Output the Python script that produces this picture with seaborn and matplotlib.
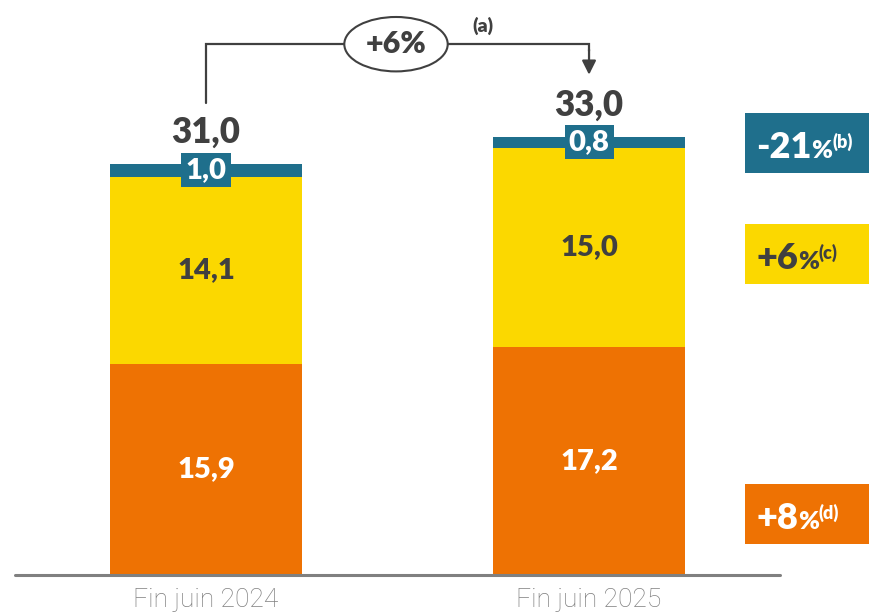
import numpy as np
import pandas as pd
import matplotlib
matplotlib.use("Agg")
import matplotlib.pyplot as plt
from matplotlib.patches import Ellipse, Rectangle
from matplotlib.transforms import IdentityTransform
import seaborn as sns

# Data
periods = ["Fin juin 2024", "Fin juin 2025"]
orange_vals = [15.9, 17.2]
yellow_vals = [14.1, 15.0]
blue_vals = [1.0, 0.8]
totals = [31.0, 33.0]
total_growth = "+6%"
total_note = "(a)"
seg_growth = ["-21", "+6", "+8"]          # blue, yellow, orange
seg_notes = ["(b)", "(c)", "(d)"]

# Colours
ORANGE = "#EE7203"
YELLOW = "#FBD800"
BLUE = "#1F6F8C"
DARK = "#404040"
GREY = "#808080"
HEAVY = "heavy"

df = pd.DataFrame({
    "period": periods,
    "orange": orange_vals,
    "yellow": yellow_vals,
    "blue": blue_vals,
})
df["orange_yellow"] = df["orange"] + df["yellow"]
df["total"] = df["orange_yellow"] + df["blue"]

sns.set_theme(style="white")
plt.rcParams["font.family"] = ["Lato", "DejaVu Sans"]

W, H = 869, 613
fig = plt.figure(figsize=(W / 100, H / 100), dpi=100)
ax = fig.add_axes([0, 0, 1, 1])

# stacked bars drawn as overlapping cumulative layers
for col, c in [("total", BLUE), ("orange_yellow", YELLOW), ("orange", ORANGE)]:
    sns.barplot(data=df, x="period", y=col, color=c, saturation=1, width=0.5,
                linewidth=0, errorbar=None, ax=ax)

ax.set_xlim(-0.538, 1.731)
ax.set_ylim(-2.86, 43.33)
for s in ax.spines.values():
    s.set_visible(False)
ax.set_xticks([])
ax.set_yticks([])
ax.set_xlabel("")
ax.set_ylabel("")

# baseline
ax.axhline(0, xmin=15 / W, xmax=780 / W, color=GREY, lw=2.2, zorder=4)

def fmt(v):
    return f"{v:.1f}".replace(".", ",")

for i in range(len(periods)):
    o, y, b, t = orange_vals[i], yellow_vals[i], blue_vals[i], totals[i]
    ax.text(i, o / 2, fmt(o), ha="center", va="center", color="white",
            fontsize=21, fontweight=HEAVY)
    ax.text(i, o + y / 2, fmt(y), ha="center", va="center", color=DARK,
            fontsize=21, fontweight=HEAVY)
    ax.text(i, o + y + b / 2, fmt(b), ha="center", va="center", color="white",
            fontsize=21, fontweight=HEAVY, zorder=5,
            bbox=dict(boxstyle="square,pad=0.14", fc=BLUE, ec="none"))
    ax.text(i, t + 1.6, fmt(t), ha="center", va="baseline", color=DARK,
            fontsize=25, fontweight=HEAVY)
    ax.text(i, -1.85, periods[i], ha="center", va="center", color=GREY,
            fontsize=19, fontweight="light", family=["Roboto", "DejaVu Sans"])

# growth connector
y_top = max(totals) + 7.0
y_start = totals[0] + 4.6
y_tip = totals[1] + 4.7
ax.plot([0, 0, 1, 1], [y_start, y_top, y_top, y_top - 0.5], color=DARK,
        lw=1.6, solid_joinstyle="miter", zorder=2)
ax.annotate("", xy=(1, y_tip), xytext=(1, y_top - 0.4),
            arrowprops=dict(arrowstyle="-|>,head_width=0.35,head_length=0.7",
                            color=DARK, lw=1.6, shrinkA=0, shrinkB=0))
ax.add_patch(Ellipse((0.496, y_top), 0.27, 4.1, fc="white", ec=DARK,
                     lw=1.5, zorder=3))
ax.text(0.496, y_top, total_growth, ha="center", va="center", color=DARK,
        fontsize=22, fontweight=HEAVY, zorder=4)
ax.text(0.723, y_top + 1.35, total_note, ha="center", va="center", color=DARK,
        fontsize=14, fontweight=HEAVY)

# right-hand growth boxes
renderer = fig.canvas.get_renderer()

def rich(x, y_base, parts, color):
    # x, y_base in image pixels (y from top)
    for s, size, dy in parts:
        t = fig.text(x, H - y_base + dy, s, transform=IdentityTransform(),
                     ha="left", va="baseline", color=color, fontsize=size,
                     fontweight=HEAVY)
        bb = t.get_window_extent(renderer)
        x = bb.x1

boxes = [(113, BLUE, "white"), (224, YELLOW, DARK), (484, ORANGE, "white")]
for k, (top, fc, tc) in enumerate(boxes):
    fig.add_artist(Rectangle((745 / W, 1 - (top + 60) / H), 124 / W, 60 / H,
                             transform=fig.transFigure, fc=fc, ec="none"))
    rich(756, top + 45, [(seg_growth[k], 26, 0), ("%", 18, 0),
                         (seg_notes[k], 13, 10)], tc)

fig.savefig("out.png", dpi=100)
